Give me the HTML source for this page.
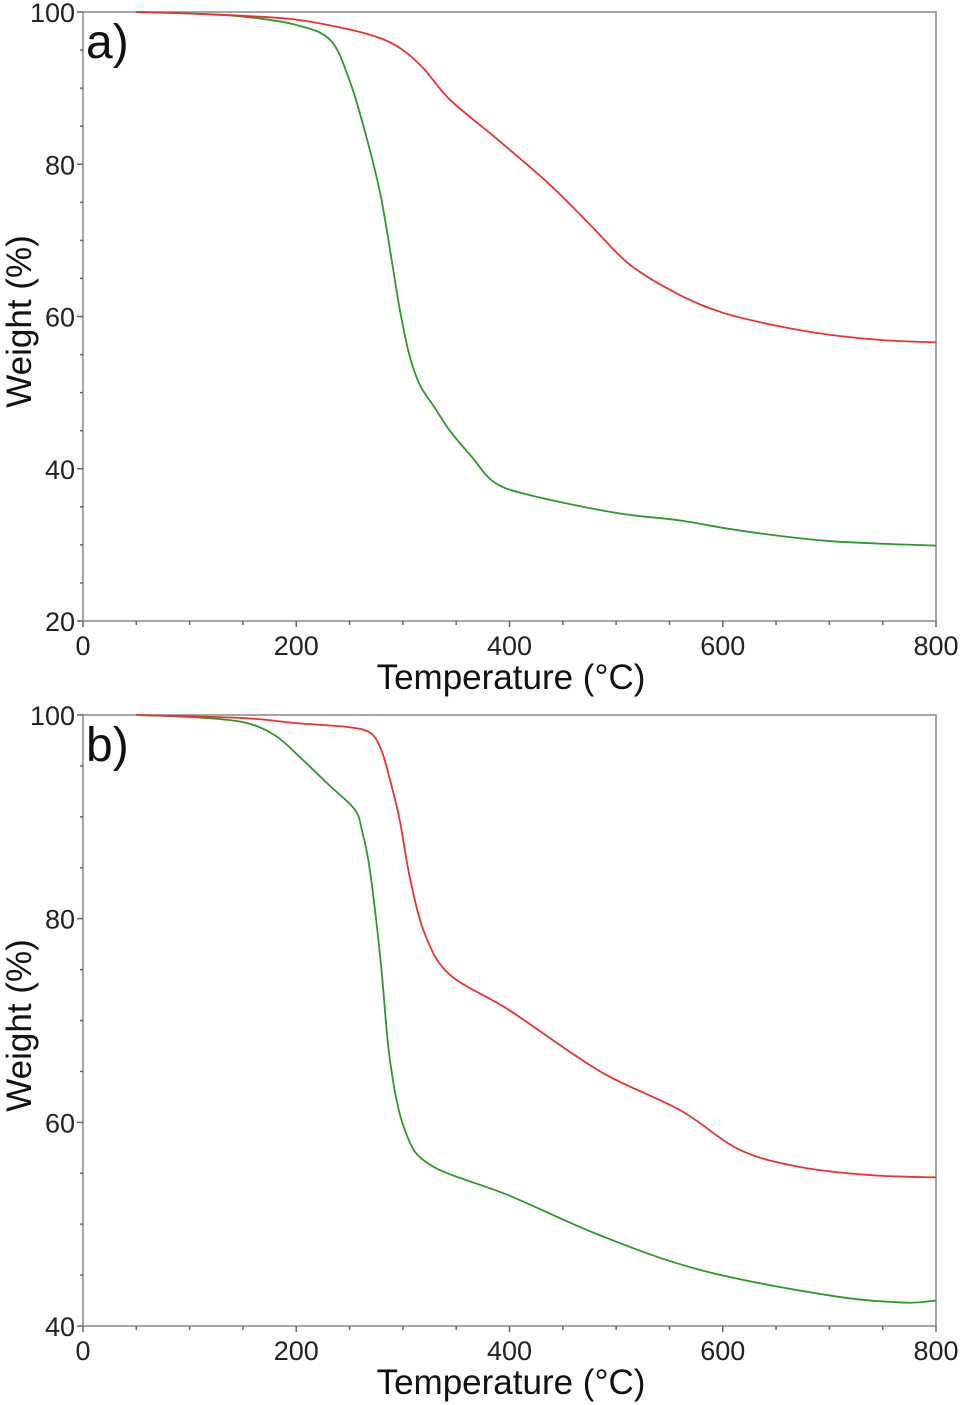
<!DOCTYPE html>
<html><head><meta charset="utf-8"><style>
body{margin:0;background:#fff;}
svg{display:block;font-family:"Liberation Sans",sans-serif;}
</style></head><body>
<svg id="chart" width="965" height="1405" viewBox="0 0 965 1405" xmlns="http://www.w3.org/2000/svg"></svg>
<script>
const xTicks=[0,200,400,600,800];
const yTicksA=[20,40,60,80,100];
const yTicksB=[40,60,80,100];
const redA=[[50,100],[100,99.8],[150,99.5],[200,99],[250,97.7],[280,96.5],[300,95],[320,92.5],[344,88.5],[391,83],[438,77.3],[476,72],[513,66.8],[560,62.8],[600,60.5],[650,58.8],[700,57.6],[750,56.9],[800,56.6]];
const greenA=[[50,100],[100,99.8],[150,99.4],[200,98.3],[232,96.3],[250,91],[265,84],[279,76],[290,67],[297,61],[306,55],[316,51],[330,48],[344,45],[365,41.5],[386,38.2],[420,36.5],[500,34.2],[560,33.2],[620,31.8],[700,30.5],[800,29.9]];
const redB=[[50,100],[150,99.7],[200,99.2],[250,98.8],[270,98.2],[280,96.5],[288,93.6],[297,89.7],[307,83.8],[321,78.4],[344,74.5],[400,71],[485,65],[560,61.2],[616,57.3],[673,55.6],[740,54.8],[800,54.6]];
const greenB=[[50,100],[100,99.8],[150,99.3],[180,98],[204,95.8],[232,93],[255,90.7],[262,88.5],[269,84.8],[279,76],[288,66],[302,59.2],[326,55.8],[400,52.8],[485,48.9],[579,45.5],[700,43],[770,42.3],[800,42.5]];

const NS="http://www.w3.org/2000/svg";
const svg=document.getElementById('chart');
function mk(tag,attrs,parent){const e=document.createElementNS(NS,tag);for(const k in attrs)e.setAttribute(k,attrs[k]);(parent||svg).appendChild(e);return e;}
function smooth(pts){let d='M'+pts[0][0]+','+pts[0][1];for(let i=0;i<pts.length-1;i++){const p0=pts[Math.max(0,i-1)],p1=pts[i],p2=pts[i+1],p3=pts[Math.min(pts.length-1,i+2)];
const c1x=p1[0]+(p2[0]-p0[0])/6,c1y=p1[1]+(p2[1]-p0[1])/6,c2x=p2[0]-(p3[0]-p1[0])/6,c2y=p2[1]-(p3[1]-p1[1])/6;d+=' C'+c1x+','+c1y+' '+c2x+','+c2y+' '+p2[0]+','+p2[1];}return d;}
function panel(name,top,bottom,ymin,yTicks,red,green,letter){
  const L=83,R=936;
  const g=mk('g',{});
  
  
  const sx=v=>L+(v-0)/800*(R-L);
  const sy=v=>bottom-(v-ymin)/(100-ymin)*(bottom-top);
  const frame=mk('rect',{x:L,y:top,width:R-L,height:bottom-top,fill:'none',stroke:'#888','stroke-width':1.5},g);
  
  
  for(let v=0;v<=800;v+=50){const major=v%200===0;mk('line',{x1:sx(v),x2:sx(v),y1:bottom,y2:bottom+(major?6:4),stroke:'#666','stroke-width':1.5},g);}
  for(let v=ymin;v<=100;v+=5){const major=v%20===0;mk('line',{x1:L,x2:L-(major?6:3),y1:sy(v),y2:sy(v),stroke:'#666','stroke-width':1.5},g);}
  xTicks.forEach(v=>{const t=mk('text',{x:sx(v),y:bottom+34,'text-anchor':'middle','font-size':27,fill:'#222'},g);t.textContent=v;
    });
  yTicks.forEach(v=>{const t=mk('text',{x:L-8,y:sy(v)+10,'text-anchor':'end','font-size':27,fill:'#222'},g);t.textContent=v;
    });
  const xt=mk('text',{x:511,y:bottom+68,'text-anchor':'middle','font-size':35,fill:'#111'},g);xt.textContent='Temperature (°C)';
  
  const cy=(top+bottom)/2+5;
  const yt=mk('text',{x:31,y:cy,'text-anchor':'middle','font-size':35,fill:'#111',transform:'rotate(-90 31 '+cy+')'},g);yt.textContent='Weight (%)';
  
  const lt=mk('text',{x:86,y:top+46,'font-size':48,fill:'#111'},g);lt.textContent=letter;
  
  const gp=mk('path',{d:smooth(green.map(p=>[sx(p[0]),sy(p[1])])),fill:'none',stroke:'#2a9a2a','stroke-width':1.8},g);
  
  const rp=mk('path',{d:smooth(red.map(p=>[sx(p[0]),sy(p[1])])),fill:'none',stroke:'#f03030','stroke-width':1.8},g);
  
}
panel('a',12,621,20,yTicksA,redA,greenA,'a)');
panel('b',715,1326,40,yTicksB,redB,greenB,'b)');
</script>
</body></html>
